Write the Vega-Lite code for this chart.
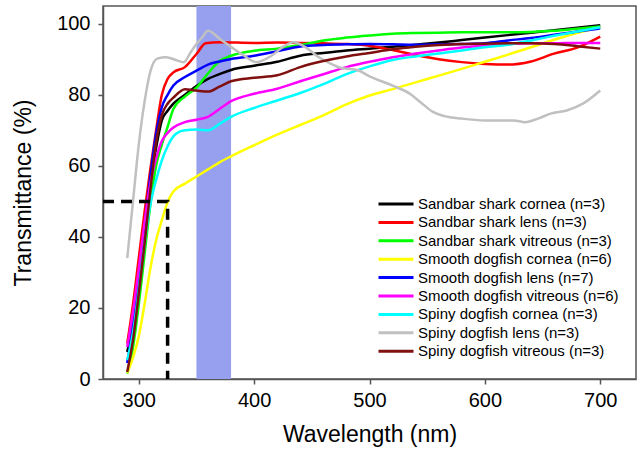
{
  "$schema": "https://vega.github.io/schema/vega-lite/v6.json",
  "width": 533,
  "height": 373,
  "autosize": "none",
  "padding": {"left": 103, "top": 6, "right": 6, "bottom": 71},
  "config": {
    "font": "Liberation Sans",
    "view": {"stroke": "#555555", "strokeWidth": 1.5},
    "axis": {"grid": false, "domainColor": "#555555", "domainWidth": 1.5, "tickColor": "#555555", "tickWidth": 1.5, "tickSize": 5, "labelColor": "#000000", "titleColor": "#000000", "labelFont": "Liberation Sans", "titleFont": "Liberation Sans", "labelFontSize": 20, "titleFontSize": 23, "titleFontWeight": "normal"}
  },
  "datasets": {
    "curves": [
      {"s": "Sandbar shark cornea (n=3)", "wl": 290, "t": 7.6},
      {"s": "Sandbar shark cornea (n=3)", "wl": 295, "t": 16},
      {"s": "Sandbar shark cornea (n=3)", "wl": 300, "t": 28},
      {"s": "Sandbar shark cornea (n=3)", "wl": 305, "t": 42},
      {"s": "Sandbar shark cornea (n=3)", "wl": 310, "t": 55},
      {"s": "Sandbar shark cornea (n=3)", "wl": 315, "t": 65},
      {"s": "Sandbar shark cornea (n=3)", "wl": 320, "t": 72.8},
      {"s": "Sandbar shark cornea (n=3)", "wl": 325, "t": 75.5},
      {"s": "Sandbar shark cornea (n=3)", "wl": 330, "t": 77.5},
      {"s": "Sandbar shark cornea (n=3)", "wl": 340, "t": 80},
      {"s": "Sandbar shark cornea (n=3)", "wl": 350, "t": 82.5},
      {"s": "Sandbar shark cornea (n=3)", "wl": 360, "t": 84.5},
      {"s": "Sandbar shark cornea (n=3)", "wl": 370, "t": 85.8},
      {"s": "Sandbar shark cornea (n=3)", "wl": 380, "t": 87},
      {"s": "Sandbar shark cornea (n=3)", "wl": 400, "t": 88.2},
      {"s": "Sandbar shark cornea (n=3)", "wl": 420, "t": 89.3},
      {"s": "Sandbar shark cornea (n=3)", "wl": 440, "t": 91},
      {"s": "Sandbar shark cornea (n=3)", "wl": 460, "t": 91.8},
      {"s": "Sandbar shark cornea (n=3)", "wl": 480, "t": 92.5},
      {"s": "Sandbar shark cornea (n=3)", "wl": 500, "t": 93},
      {"s": "Sandbar shark cornea (n=3)", "wl": 520, "t": 93.5},
      {"s": "Sandbar shark cornea (n=3)", "wl": 540, "t": 94.1},
      {"s": "Sandbar shark cornea (n=3)", "wl": 560, "t": 94.7},
      {"s": "Sandbar shark cornea (n=3)", "wl": 580, "t": 95.4},
      {"s": "Sandbar shark cornea (n=3)", "wl": 600, "t": 96.1},
      {"s": "Sandbar shark cornea (n=3)", "wl": 620, "t": 96.8},
      {"s": "Sandbar shark cornea (n=3)", "wl": 640, "t": 97.5},
      {"s": "Sandbar shark cornea (n=3)", "wl": 660, "t": 98.2},
      {"s": "Sandbar shark cornea (n=3)", "wl": 680, "t": 98.9},
      {"s": "Sandbar shark cornea (n=3)", "wl": 700, "t": 99.6},

      {"s": "Sandbar shark lens (n=3)", "wl": 290, "t": 10},
      {"s": "Sandbar shark lens (n=3)", "wl": 295, "t": 21},
      {"s": "Sandbar shark lens (n=3)", "wl": 300, "t": 34},
      {"s": "Sandbar shark lens (n=3)", "wl": 305, "t": 47},
      {"s": "Sandbar shark lens (n=3)", "wl": 310, "t": 59},
      {"s": "Sandbar shark lens (n=3)", "wl": 315, "t": 70},
      {"s": "Sandbar shark lens (n=3)", "wl": 320, "t": 80},
      {"s": "Sandbar shark lens (n=3)", "wl": 325, "t": 84.5},
      {"s": "Sandbar shark lens (n=3)", "wl": 330, "t": 86.3},
      {"s": "Sandbar shark lens (n=3)", "wl": 340, "t": 87.8},
      {"s": "Sandbar shark lens (n=3)", "wl": 350, "t": 91.5},
      {"s": "Sandbar shark lens (n=3)", "wl": 358, "t": 94.5},
      {"s": "Sandbar shark lens (n=3)", "wl": 370, "t": 94.8},
      {"s": "Sandbar shark lens (n=3)", "wl": 400, "t": 94.6},
      {"s": "Sandbar shark lens (n=3)", "wl": 420, "t": 94.7},
      {"s": "Sandbar shark lens (n=3)", "wl": 440, "t": 94.6},
      {"s": "Sandbar shark lens (n=3)", "wl": 460, "t": 94.5},
      {"s": "Sandbar shark lens (n=3)", "wl": 480, "t": 94.3},
      {"s": "Sandbar shark lens (n=3)", "wl": 500, "t": 93.8},
      {"s": "Sandbar shark lens (n=3)", "wl": 520, "t": 92.6},
      {"s": "Sandbar shark lens (n=3)", "wl": 540, "t": 91.2},
      {"s": "Sandbar shark lens (n=3)", "wl": 560, "t": 90},
      {"s": "Sandbar shark lens (n=3)", "wl": 580, "t": 89.2},
      {"s": "Sandbar shark lens (n=3)", "wl": 600, "t": 88.7},
      {"s": "Sandbar shark lens (n=3)", "wl": 620, "t": 88.5},
      {"s": "Sandbar shark lens (n=3)", "wl": 640, "t": 89.4},
      {"s": "Sandbar shark lens (n=3)", "wl": 660, "t": 91.6},
      {"s": "Sandbar shark lens (n=3)", "wl": 680, "t": 93.3},
      {"s": "Sandbar shark lens (n=3)", "wl": 700, "t": 96.4},

      {"s": "Sandbar shark vitreous (n=3)", "wl": 290, "t": 1.5},
      {"s": "Sandbar shark vitreous (n=3)", "wl": 295, "t": 9},
      {"s": "Sandbar shark vitreous (n=3)", "wl": 300, "t": 21},
      {"s": "Sandbar shark vitreous (n=3)", "wl": 305, "t": 35},
      {"s": "Sandbar shark vitreous (n=3)", "wl": 310, "t": 49},
      {"s": "Sandbar shark vitreous (n=3)", "wl": 315, "t": 60},
      {"s": "Sandbar shark vitreous (n=3)", "wl": 320, "t": 66},
      {"s": "Sandbar shark vitreous (n=3)", "wl": 325, "t": 71},
      {"s": "Sandbar shark vitreous (n=3)", "wl": 330, "t": 76},
      {"s": "Sandbar shark vitreous (n=3)", "wl": 340, "t": 79.5},
      {"s": "Sandbar shark vitreous (n=3)", "wl": 350, "t": 82},
      {"s": "Sandbar shark vitreous (n=3)", "wl": 360, "t": 86},
      {"s": "Sandbar shark vitreous (n=3)", "wl": 370, "t": 89.5},
      {"s": "Sandbar shark vitreous (n=3)", "wl": 380, "t": 91},
      {"s": "Sandbar shark vitreous (n=3)", "wl": 400, "t": 92.4},
      {"s": "Sandbar shark vitreous (n=3)", "wl": 420, "t": 93},
      {"s": "Sandbar shark vitreous (n=3)", "wl": 440, "t": 94},
      {"s": "Sandbar shark vitreous (n=3)", "wl": 460, "t": 95.3},
      {"s": "Sandbar shark vitreous (n=3)", "wl": 480, "t": 96.1},
      {"s": "Sandbar shark vitreous (n=3)", "wl": 500, "t": 96.7},
      {"s": "Sandbar shark vitreous (n=3)", "wl": 520, "t": 97.2},
      {"s": "Sandbar shark vitreous (n=3)", "wl": 540, "t": 97.4},
      {"s": "Sandbar shark vitreous (n=3)", "wl": 560, "t": 97.5},
      {"s": "Sandbar shark vitreous (n=3)", "wl": 580, "t": 97.6},
      {"s": "Sandbar shark vitreous (n=3)", "wl": 600, "t": 97.6},
      {"s": "Sandbar shark vitreous (n=3)", "wl": 620, "t": 97.6},
      {"s": "Sandbar shark vitreous (n=3)", "wl": 640, "t": 97.7},
      {"s": "Sandbar shark vitreous (n=3)", "wl": 660, "t": 98},
      {"s": "Sandbar shark vitreous (n=3)", "wl": 680, "t": 98.6},
      {"s": "Sandbar shark vitreous (n=3)", "wl": 700, "t": 99.2},

      {"s": "Smooth dogfish cornea (n=6)", "wl": 290, "t": 1.7},
      {"s": "Smooth dogfish cornea (n=6)", "wl": 295, "t": 6},
      {"s": "Smooth dogfish cornea (n=6)", "wl": 300, "t": 12},
      {"s": "Smooth dogfish cornea (n=6)", "wl": 305, "t": 21},
      {"s": "Smooth dogfish cornea (n=6)", "wl": 310, "t": 31},
      {"s": "Smooth dogfish cornea (n=6)", "wl": 315, "t": 39},
      {"s": "Smooth dogfish cornea (n=6)", "wl": 320, "t": 44.7},
      {"s": "Smooth dogfish cornea (n=6)", "wl": 325, "t": 49.8},
      {"s": "Smooth dogfish cornea (n=6)", "wl": 330, "t": 52.8},
      {"s": "Smooth dogfish cornea (n=6)", "wl": 340, "t": 55},
      {"s": "Smooth dogfish cornea (n=6)", "wl": 350, "t": 57},
      {"s": "Smooth dogfish cornea (n=6)", "wl": 360, "t": 59},
      {"s": "Smooth dogfish cornea (n=6)", "wl": 370, "t": 61},
      {"s": "Smooth dogfish cornea (n=6)", "wl": 380, "t": 62.7},
      {"s": "Smooth dogfish cornea (n=6)", "wl": 400, "t": 65.8},
      {"s": "Smooth dogfish cornea (n=6)", "wl": 420, "t": 68.8},
      {"s": "Smooth dogfish cornea (n=6)", "wl": 440, "t": 71.5},
      {"s": "Smooth dogfish cornea (n=6)", "wl": 460, "t": 74.2},
      {"s": "Smooth dogfish cornea (n=6)", "wl": 480, "t": 77.3},
      {"s": "Smooth dogfish cornea (n=6)", "wl": 500, "t": 79.8},
      {"s": "Smooth dogfish cornea (n=6)", "wl": 520, "t": 81.6},
      {"s": "Smooth dogfish cornea (n=6)", "wl": 540, "t": 83.5},
      {"s": "Smooth dogfish cornea (n=6)", "wl": 560, "t": 85.4},
      {"s": "Smooth dogfish cornea (n=6)", "wl": 580, "t": 87.3},
      {"s": "Smooth dogfish cornea (n=6)", "wl": 600, "t": 89.3},
      {"s": "Smooth dogfish cornea (n=6)", "wl": 620, "t": 91.3},
      {"s": "Smooth dogfish cornea (n=6)", "wl": 640, "t": 93.4},
      {"s": "Smooth dogfish cornea (n=6)", "wl": 660, "t": 95.5},
      {"s": "Smooth dogfish cornea (n=6)", "wl": 680, "t": 97.4},
      {"s": "Smooth dogfish cornea (n=6)", "wl": 700, "t": 99},

      {"s": "Smooth dogfish lens (n=7)", "wl": 290, "t": 4.5},
      {"s": "Smooth dogfish lens (n=7)", "wl": 295, "t": 15},
      {"s": "Smooth dogfish lens (n=7)", "wl": 300, "t": 29},
      {"s": "Smooth dogfish lens (n=7)", "wl": 305, "t": 43},
      {"s": "Smooth dogfish lens (n=7)", "wl": 310, "t": 57},
      {"s": "Smooth dogfish lens (n=7)", "wl": 315, "t": 69},
      {"s": "Smooth dogfish lens (n=7)", "wl": 320, "t": 76.5},
      {"s": "Smooth dogfish lens (n=7)", "wl": 325, "t": 80},
      {"s": "Smooth dogfish lens (n=7)", "wl": 330, "t": 82.6},
      {"s": "Smooth dogfish lens (n=7)", "wl": 340, "t": 85},
      {"s": "Smooth dogfish lens (n=7)", "wl": 350, "t": 86.8},
      {"s": "Smooth dogfish lens (n=7)", "wl": 360, "t": 88.5},
      {"s": "Smooth dogfish lens (n=7)", "wl": 370, "t": 89.4},
      {"s": "Smooth dogfish lens (n=7)", "wl": 380, "t": 90.1},
      {"s": "Smooth dogfish lens (n=7)", "wl": 400, "t": 91},
      {"s": "Smooth dogfish lens (n=7)", "wl": 420, "t": 92.3},
      {"s": "Smooth dogfish lens (n=7)", "wl": 440, "t": 93.6},
      {"s": "Smooth dogfish lens (n=7)", "wl": 460, "t": 94},
      {"s": "Smooth dogfish lens (n=7)", "wl": 480, "t": 94.2},
      {"s": "Smooth dogfish lens (n=7)", "wl": 500, "t": 94.3},
      {"s": "Smooth dogfish lens (n=7)", "wl": 520, "t": 94.2},
      {"s": "Smooth dogfish lens (n=7)", "wl": 540, "t": 94.1},
      {"s": "Smooth dogfish lens (n=7)", "wl": 560, "t": 94.2},
      {"s": "Smooth dogfish lens (n=7)", "wl": 580, "t": 94.3},
      {"s": "Smooth dogfish lens (n=7)", "wl": 600, "t": 94.5},
      {"s": "Smooth dogfish lens (n=7)", "wl": 620, "t": 95.3},
      {"s": "Smooth dogfish lens (n=7)", "wl": 640, "t": 96},
      {"s": "Smooth dogfish lens (n=7)", "wl": 660, "t": 96.9},
      {"s": "Smooth dogfish lens (n=7)", "wl": 680, "t": 97.8},
      {"s": "Smooth dogfish lens (n=7)", "wl": 700, "t": 98.7},

      {"s": "Smooth dogfish vitreous (n=6)", "wl": 290, "t": 9},
      {"s": "Smooth dogfish vitreous (n=6)", "wl": 295, "t": 19},
      {"s": "Smooth dogfish vitreous (n=6)", "wl": 300, "t": 31},
      {"s": "Smooth dogfish vitreous (n=6)", "wl": 305, "t": 44},
      {"s": "Smooth dogfish vitreous (n=6)", "wl": 310, "t": 55},
      {"s": "Smooth dogfish vitreous (n=6)", "wl": 315, "t": 62},
      {"s": "Smooth dogfish vitreous (n=6)", "wl": 320, "t": 67},
      {"s": "Smooth dogfish vitreous (n=6)", "wl": 325, "t": 69.3},
      {"s": "Smooth dogfish vitreous (n=6)", "wl": 330, "t": 70.8},
      {"s": "Smooth dogfish vitreous (n=6)", "wl": 340, "t": 72.3},
      {"s": "Smooth dogfish vitreous (n=6)", "wl": 350, "t": 73},
      {"s": "Smooth dogfish vitreous (n=6)", "wl": 360, "t": 73.8},
      {"s": "Smooth dogfish vitreous (n=6)", "wl": 370, "t": 76},
      {"s": "Smooth dogfish vitreous (n=6)", "wl": 380, "t": 78.2},
      {"s": "Smooth dogfish vitreous (n=6)", "wl": 400, "t": 80.3},
      {"s": "Smooth dogfish vitreous (n=6)", "wl": 420, "t": 81.7},
      {"s": "Smooth dogfish vitreous (n=6)", "wl": 440, "t": 83.8},
      {"s": "Smooth dogfish vitreous (n=6)", "wl": 460, "t": 85.8},
      {"s": "Smooth dogfish vitreous (n=6)", "wl": 480, "t": 87.8},
      {"s": "Smooth dogfish vitreous (n=6)", "wl": 500, "t": 89.3},
      {"s": "Smooth dogfish vitreous (n=6)", "wl": 520, "t": 90.6},
      {"s": "Smooth dogfish vitreous (n=6)", "wl": 540, "t": 91.6},
      {"s": "Smooth dogfish vitreous (n=6)", "wl": 560, "t": 92.5},
      {"s": "Smooth dogfish vitreous (n=6)", "wl": 580, "t": 93.3},
      {"s": "Smooth dogfish vitreous (n=6)", "wl": 600, "t": 93.8},
      {"s": "Smooth dogfish vitreous (n=6)", "wl": 620, "t": 94.3},
      {"s": "Smooth dogfish vitreous (n=6)", "wl": 640, "t": 94.5},
      {"s": "Smooth dogfish vitreous (n=6)", "wl": 660, "t": 94.5},
      {"s": "Smooth dogfish vitreous (n=6)", "wl": 680, "t": 94.6},
      {"s": "Smooth dogfish vitreous (n=6)", "wl": 700, "t": 94.6},

      {"s": "Spiny dogfish cornea (n=3)", "wl": 290, "t": 5.3},
      {"s": "Spiny dogfish cornea (n=3)", "wl": 295, "t": 13},
      {"s": "Spiny dogfish cornea (n=3)", "wl": 300, "t": 25},
      {"s": "Spiny dogfish cornea (n=3)", "wl": 305, "t": 38},
      {"s": "Spiny dogfish cornea (n=3)", "wl": 310, "t": 49},
      {"s": "Spiny dogfish cornea (n=3)", "wl": 315, "t": 56},
      {"s": "Spiny dogfish cornea (n=3)", "wl": 320, "t": 61.5},
      {"s": "Spiny dogfish cornea (n=3)", "wl": 325, "t": 65.5},
      {"s": "Spiny dogfish cornea (n=3)", "wl": 330, "t": 68.3},
      {"s": "Spiny dogfish cornea (n=3)", "wl": 335, "t": 69.6},
      {"s": "Spiny dogfish cornea (n=3)", "wl": 340, "t": 70},
      {"s": "Spiny dogfish cornea (n=3)", "wl": 350, "t": 70.2},
      {"s": "Spiny dogfish cornea (n=3)", "wl": 360, "t": 70},
      {"s": "Spiny dogfish cornea (n=3)", "wl": 370, "t": 71.8},
      {"s": "Spiny dogfish cornea (n=3)", "wl": 380, "t": 73.8},
      {"s": "Spiny dogfish cornea (n=3)", "wl": 400, "t": 76.3},
      {"s": "Spiny dogfish cornea (n=3)", "wl": 420, "t": 78.4},
      {"s": "Spiny dogfish cornea (n=3)", "wl": 440, "t": 80.5},
      {"s": "Spiny dogfish cornea (n=3)", "wl": 460, "t": 83},
      {"s": "Spiny dogfish cornea (n=3)", "wl": 480, "t": 85.8},
      {"s": "Spiny dogfish cornea (n=3)", "wl": 500, "t": 88},
      {"s": "Spiny dogfish cornea (n=3)", "wl": 520, "t": 89.8},
      {"s": "Spiny dogfish cornea (n=3)", "wl": 540, "t": 90.8},
      {"s": "Spiny dogfish cornea (n=3)", "wl": 560, "t": 91.6},
      {"s": "Spiny dogfish cornea (n=3)", "wl": 580, "t": 92.5},
      {"s": "Spiny dogfish cornea (n=3)", "wl": 600, "t": 93.4},
      {"s": "Spiny dogfish cornea (n=3)", "wl": 620, "t": 94.1},
      {"s": "Spiny dogfish cornea (n=3)", "wl": 640, "t": 95.3},
      {"s": "Spiny dogfish cornea (n=3)", "wl": 660, "t": 96.6},
      {"s": "Spiny dogfish cornea (n=3)", "wl": 680, "t": 97.8},
      {"s": "Spiny dogfish cornea (n=3)", "wl": 700, "t": 99},

      {"s": "Spiny dogfish lens (n=3)", "wl": 290, "t": 34},
      {"s": "Spiny dogfish lens (n=3)", "wl": 295, "t": 50},
      {"s": "Spiny dogfish lens (n=3)", "wl": 300, "t": 66},
      {"s": "Spiny dogfish lens (n=3)", "wl": 305, "t": 78},
      {"s": "Spiny dogfish lens (n=3)", "wl": 310, "t": 86.5},
      {"s": "Spiny dogfish lens (n=3)", "wl": 316, "t": 90.2},
      {"s": "Spiny dogfish lens (n=3)", "wl": 324, "t": 90.6},
      {"s": "Spiny dogfish lens (n=3)", "wl": 332, "t": 89.8},
      {"s": "Spiny dogfish lens (n=3)", "wl": 339, "t": 89.2},
      {"s": "Spiny dogfish lens (n=3)", "wl": 345, "t": 92},
      {"s": "Spiny dogfish lens (n=3)", "wl": 350, "t": 94.3},
      {"s": "Spiny dogfish lens (n=3)", "wl": 355, "t": 96.2},
      {"s": "Spiny dogfish lens (n=3)", "wl": 360, "t": 98},
      {"s": "Spiny dogfish lens (n=3)", "wl": 370, "t": 95.8},
      {"s": "Spiny dogfish lens (n=3)", "wl": 380, "t": 93.5},
      {"s": "Spiny dogfish lens (n=3)", "wl": 390, "t": 91.3},
      {"s": "Spiny dogfish lens (n=3)", "wl": 402, "t": 89.2},
      {"s": "Spiny dogfish lens (n=3)", "wl": 415, "t": 91},
      {"s": "Spiny dogfish lens (n=3)", "wl": 425, "t": 93.5},
      {"s": "Spiny dogfish lens (n=3)", "wl": 434, "t": 94.8},
      {"s": "Spiny dogfish lens (n=3)", "wl": 445, "t": 93.3},
      {"s": "Spiny dogfish lens (n=3)", "wl": 455, "t": 90.8},
      {"s": "Spiny dogfish lens (n=3)", "wl": 465, "t": 89},
      {"s": "Spiny dogfish lens (n=3)", "wl": 475, "t": 87.6},
      {"s": "Spiny dogfish lens (n=3)", "wl": 490, "t": 86.9},
      {"s": "Spiny dogfish lens (n=3)", "wl": 500, "t": 85.2},
      {"s": "Spiny dogfish lens (n=3)", "wl": 520, "t": 82.6},
      {"s": "Spiny dogfish lens (n=3)", "wl": 535, "t": 80.3},
      {"s": "Spiny dogfish lens (n=3)", "wl": 545, "t": 77.7},
      {"s": "Spiny dogfish lens (n=3)", "wl": 555, "t": 75.2},
      {"s": "Spiny dogfish lens (n=3)", "wl": 565, "t": 74},
      {"s": "Spiny dogfish lens (n=3)", "wl": 580, "t": 73.3},
      {"s": "Spiny dogfish lens (n=3)", "wl": 600, "t": 72.8},
      {"s": "Spiny dogfish lens (n=3)", "wl": 625, "t": 72.8},
      {"s": "Spiny dogfish lens (n=3)", "wl": 635, "t": 72.3},
      {"s": "Spiny dogfish lens (n=3)", "wl": 646, "t": 73.3},
      {"s": "Spiny dogfish lens (n=3)", "wl": 657, "t": 74.7},
      {"s": "Spiny dogfish lens (n=3)", "wl": 671, "t": 75.6},
      {"s": "Spiny dogfish lens (n=3)", "wl": 685, "t": 77.5},
      {"s": "Spiny dogfish lens (n=3)", "wl": 700, "t": 81.2},

      {"s": "Spiny dogfish vitreous (n=3)", "wl": 290, "t": 2},
      {"s": "Spiny dogfish vitreous (n=3)", "wl": 295, "t": 11},
      {"s": "Spiny dogfish vitreous (n=3)", "wl": 300, "t": 24},
      {"s": "Spiny dogfish vitreous (n=3)", "wl": 305, "t": 38},
      {"s": "Spiny dogfish vitreous (n=3)", "wl": 310, "t": 53},
      {"s": "Spiny dogfish vitreous (n=3)", "wl": 315, "t": 66.5},
      {"s": "Spiny dogfish vitreous (n=3)", "wl": 320, "t": 74.3},
      {"s": "Spiny dogfish vitreous (n=3)", "wl": 325, "t": 77.5},
      {"s": "Spiny dogfish vitreous (n=3)", "wl": 330, "t": 79.2},
      {"s": "Spiny dogfish vitreous (n=3)", "wl": 340, "t": 81.6},
      {"s": "Spiny dogfish vitreous (n=3)", "wl": 350, "t": 81.2},
      {"s": "Spiny dogfish vitreous (n=3)", "wl": 360, "t": 80.9},
      {"s": "Spiny dogfish vitreous (n=3)", "wl": 370, "t": 82.3},
      {"s": "Spiny dogfish vitreous (n=3)", "wl": 380, "t": 83.8},
      {"s": "Spiny dogfish vitreous (n=3)", "wl": 400, "t": 84.8},
      {"s": "Spiny dogfish vitreous (n=3)", "wl": 420, "t": 85.5},
      {"s": "Spiny dogfish vitreous (n=3)", "wl": 440, "t": 87.8},
      {"s": "Spiny dogfish vitreous (n=3)", "wl": 460, "t": 89.5},
      {"s": "Spiny dogfish vitreous (n=3)", "wl": 480, "t": 90.8},
      {"s": "Spiny dogfish vitreous (n=3)", "wl": 500, "t": 91.8},
      {"s": "Spiny dogfish vitreous (n=3)", "wl": 520, "t": 92.8},
      {"s": "Spiny dogfish vitreous (n=3)", "wl": 540, "t": 93.5},
      {"s": "Spiny dogfish vitreous (n=3)", "wl": 560, "t": 94},
      {"s": "Spiny dogfish vitreous (n=3)", "wl": 580, "t": 94.3},
      {"s": "Spiny dogfish vitreous (n=3)", "wl": 600, "t": 94.4},
      {"s": "Spiny dogfish vitreous (n=3)", "wl": 620, "t": 94.5},
      {"s": "Spiny dogfish vitreous (n=3)", "wl": 640, "t": 94.5},
      {"s": "Spiny dogfish vitreous (n=3)", "wl": 660, "t": 94.3},
      {"s": "Spiny dogfish vitreous (n=3)", "wl": 680, "t": 93.7},
      {"s": "Spiny dogfish vitreous (n=3)", "wl": 700, "t": 93}
    ],
    "band": [{"start": 350, "end": 380}],
    "marker": [
      {"k": 1, "wl": 269, "t": 50},
      {"k": 2, "wl": 325, "t": 50},
      {"k": 3, "wl": 325, "t": 0}
    ]
  },
  "layer": [
    {
      "data": {"name": "band"},
      "mark": {"type": "rect", "color": "#97a0ef", "opacity": 1},
      "encoding": {
        "x": {"field": "start", "type": "quantitative", "scale": {"domain": [269, 731], "nice": false, "zero": false}},
        "x2": {"field": "end"}
      }
    },
    {
      "data": {"name": "curves"},
      "mark": {"type": "line", "strokeWidth": 2.5, "interpolate": "monotone", "clip": true},
      "encoding": {
        "x": {"field": "wl", "type": "quantitative", "scale": {"domain": [269, 731], "nice": false, "zero": false},
              "axis": {"values": [300, 400, 500, 600, 700], "title": "Wavelength (nm)", "labelPadding": 6, "titlePadding": 13}},
        "y": {"field": "t", "type": "quantitative", "scale": {"domain": [0, 105], "nice": false},
              "axis": {"values": [0, 10, 20, 30, 40, 50, 60, 70, 80, 90, 100], "labelExpr": "datum.value % 20 === 0 ? datum.label : ''", "title": "Transmittance (%)", "labelPadding": 8, "titlePadding": 21}},
        "color": {"field": "s", "type": "nominal",
          "scale": {
            "domain": ["Sandbar shark cornea (n=3)", "Sandbar shark lens (n=3)", "Sandbar shark vitreous (n=3)", "Smooth dogfish cornea (n=6)", "Smooth dogfish lens (n=7)", "Smooth dogfish vitreous (n=6)", "Spiny dogfish cornea (n=3)", "Spiny dogfish lens (n=3)", "Spiny dogfish vitreous (n=3)"],
            "range": ["#000000", "#ff0000", "#00ff00", "#ffff00", "#0000ff", "#ff00ff", "#00ffff", "#c0c0c0", "#801010"]
          },
          "legend": {"orient": "none", "legendX": 274, "legendY": 189, "title": null, "symbolType": "M-1,0H3.667", "symbolStrokeWidth": 3, "symbolSize": 225, "labelFontSize": 15, "labelFont": "Liberation Sans", "labelColor": "#000000", "labelLimit": 0, "rowPadding": 1.4, "labelOffset": 23}
        }
      }
    },
    {
      "data": {"name": "marker"},
      "mark": {"type": "line", "color": "#000000", "strokeWidth": 3.5, "strokeDash": [11, 7]},
      "encoding": {
        "x": {"field": "wl", "type": "quantitative"},
        "y": {"field": "t", "type": "quantitative"},
        "order": {"field": "k"}
      }
    }
  ]
}
